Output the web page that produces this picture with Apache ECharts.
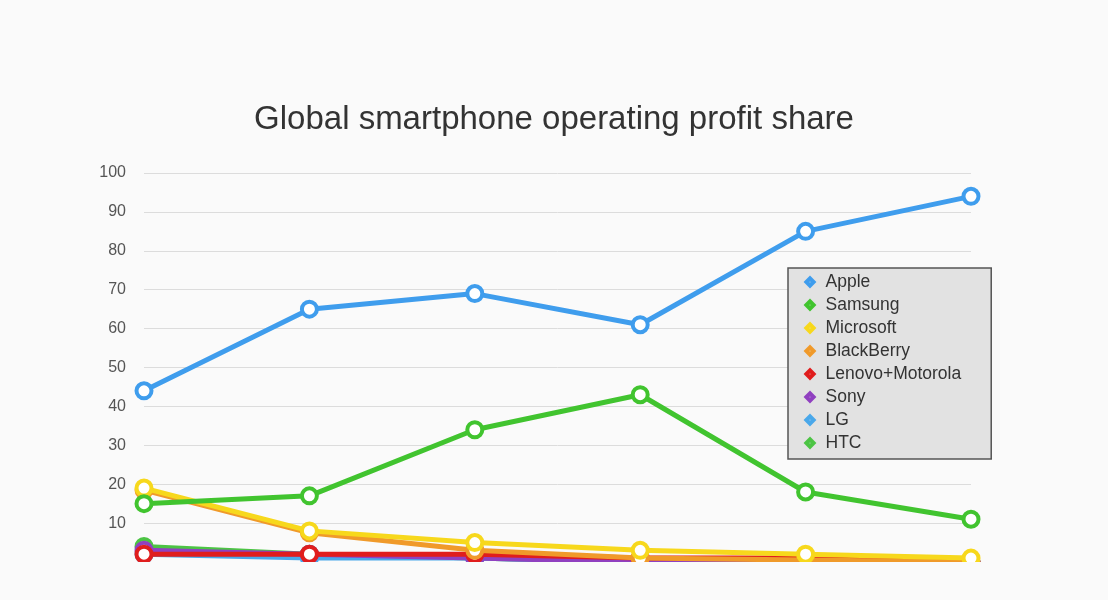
<!DOCTYPE html><html><head><meta charset="utf-8"><script src="https://cdn.jsdelivr.net/npm/echarts@6/dist/echarts.min.js"></script></head><body style="margin:0;background:#fafafa"><div id="c" style="width:1108px;height:562px"></div><script>
const categories=['2011','2012','2013','2014','2015','2016'];
const apple=[44,65,69,61,85,94];
const samsung=[15,17,34,43,18,11];
const microsoft=[19,8,5,3,2,1];
const blackberry=[18.5,7.5,3,1,0.5,0];
const lenovo=[2,2,2,1,1,0];
const sony=[3,2,1,0,0,0];
const lg=[2,1,1,0,0,0];
const htc=[4,2,1,0,0,0];
const yTicks=[0,10,20,30,40,50,60,70,80,90,100];
const names=['Apple','Samsung','Microsoft','BlackBerry','Lenovo+Motorola','Sony','LG','HTC'];
const colors=['#3f9ded','#41c42f','#f7d81c','#f09a2a','#e01d1d','#9040c0','#4aa8ea','#4cc444'];
const datas=[apple,samsung,microsoft,blackberry,lenovo,sony,lg,htc];
const order=[7,6,5,4,3,2,1,0];
const series=order.map(i=>({name:names[i],type:'line',data:datas[i],z:10-i,symbol:'circle',symbolSize:15,
 itemStyle:{color:'#fff',borderColor:colors[i],borderWidth:4},lineStyle:{color:colors[i],width:5},
 emphasis:{disabled:true}}));
const c=echarts.init(document.getElementById('c'));
c.setOption({backgroundColor:'#fafafa',animation:false,
title:{text:'Global smartphone operating profit share',left:'center',top:98,textStyle:{fontSize:33,fontWeight:'normal',color:'#333',fontFamily:'Helvetica, Liberation Sans, Arial'}},
legend:{orient:'vertical',left:788,top:268,width:206,padding:[5,30,7,16],itemGap:5,backgroundColor:'#e2e2e2',borderColor:'#555',borderWidth:1.5,
 data:names.map((n,i)=>({name:n,icon:'path://M0,5L5,0L10,5L5,10Z M5,3L3,5L5,7L7,5Z',itemStyle:{color:colors[i]}})),
 itemWidth:11,itemHeight:10,textStyle:{fontSize:17.5,color:'#333',fontFamily:'Helvetica, Liberation Sans, Arial',padding:[0,0,0,5]}},
grid:{left:144,right:137,top:173,bottom:-39},
xAxis:{type:'category',boundaryGap:false,data:categories,axisLine:{show:false},axisTick:{show:false},axisLabel:{show:false}},
yAxis:{type:'value',min:0,max:100,interval:10,axisLabel:{formatter:v=>yTicks.includes(v)&&v>0?v:'',fontSize:16,color:'#555',margin:18},
 splitLine:{lineStyle:{color:'#dcdcdc'}},axisLine:{show:false}},
series});
</script></body></html>
